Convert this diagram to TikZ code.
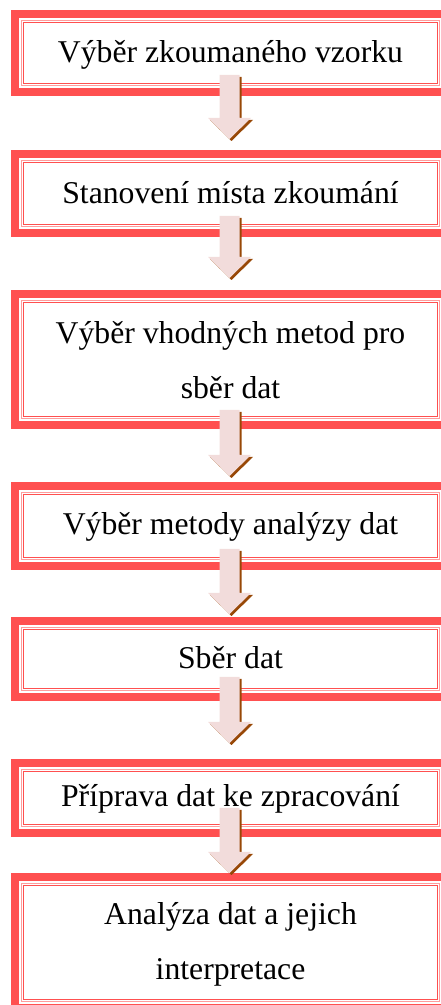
\documentclass[tikz,border=0pt]{standalone}
\usepackage{fontspec}
\setmainfont{Liberation Serif}
\usetikzlibrary{calc}

\definecolor{framered}{HTML}{FF5050}
\definecolor{framepink}{HTML}{FF9C9C}
\definecolor{arrowfill}{HTML}{F2DCDB}
\definecolor{arrowshade}{HTML}{984807}

\tikzset{
  stepbox/.style={rectangle, minimum width=439pt, inner sep=0pt, outer sep=0pt},
  steptext/.style={anchor=base, inner sep=0pt, font=\fontsize{31.7}{38}\selectfont},
}

% thick outer frame, then a pale hairline and a thin red line inside it
\newcommand\stepframe[1]{%
  \draw[framered, line width=8pt]
    ([shift={(4pt,-4pt)}]#1.north west) rectangle ([shift={(-4pt,4pt)}]#1.south east);
  \draw[framepink, line width=0.9pt]
    ([shift={(10.3pt,-10.3pt)}]#1.north west) rectangle ([shift={(-10.3pt,10.3pt)}]#1.south east);
  \draw[framered, line width=1.5pt]
    ([shift={(12.3pt,-12.3pt)}]#1.north west) rectangle ([shift={(-12.3pt,12.3pt)}]#1.south east);
}

% block arrow from box #1 down to box #2: starts #3 above the bottom of #1,
% its tip stops #4 above the top of #2; brown shadow offset to lower right
\newcommand\flowarrow[4]{%
  \foreach \sh/\col in {2/arrowshade, 0/arrowfill}{%
    \fill[\col]
      let \p1=(#1.south), \p2=(#2.north),
          \n1={\y1+#3pt-\sh pt}, \n2={\y2+#4pt-\sh pt},
          \n3={\y2+#4pt+21pt-\sh pt}, \n4={\x1-1pt+\sh pt} in
      (\n4-10pt,\n1) -- (\n4+10pt,\n1) -- (\n4+10pt,\n3) -- (\n4+21.5pt,\n3)
      -- (\n4,\n2) -- (\n4-21.5pt,\n3) -- (\n4-10pt,\n3) -- cycle;
  }%
}

\begin{document}
\begin{tikzpicture}[x=1pt, y=1pt]
  \useasboundingbox (0,0) rectangle (441,1005);
  \clip (0,0) rectangle (441,1005);

  % step boxes
  \node[stepbox, minimum height=86pt]  (b1) at (230.5,952)   {};
  \node[stepbox, minimum height=87pt]  (b2) at (230.5,811.5) {};
  \node[stepbox, minimum height=139pt] (b3) at (230.5,645.5) {};
  \node[stepbox, minimum height=88pt]  (b4) at (230.5,479)   {};
  \node[stepbox, minimum height=84pt]  (b5) at (230.5,346)   {};
  \node[stepbox, minimum height=78pt]  (b6) at (230.5,207)   {};
  \node[stepbox, minimum height=139pt] (b7) at (230.5,62.5)  {};

  \stepframe{b1}
  \stepframe{b2}
  \stepframe{b3}
  \stepframe{b4}
  \stepframe{b5}
  \stepframe{b6}
  \stepframe{b7}

  % step labels
  \node[steptext] (t1)  at (230.5,942) {Výběr zkoumaného vzorku};
  \node[steptext] (t2)  at (230.5,801) {Stanovení místa zkoumání};
  \node[steptext] (t3a) at (230.5,661) {Výběr vhodných metod pro};
  \node[steptext] (t3b) at (230.5,606) {sběr dat};
  \node[steptext] (t4)  at (230.5,470) {Výběr metody analýzy dat};
  \node[steptext] (t5)  at (230.5,336) {Sběr dat};
  \node[steptext] (t6)  at (230.5,198) {Příprava dat ke zpracování};
  \node[steptext] (t7a) at (230.5,80)  {Analýza dat a jejich};
  \node[steptext] (t7b) at (230.5,25)  {interpretace};

  % arrows between the steps
  \flowarrow{b1}{b2}{21}{11}
  \flowarrow{b2}{b3}{21}{12}
  \flowarrow{b3}{b4}{19}{6}
  \flowarrow{b4}{b5}{21}{3}
  \flowarrow{b5}{b6}{24}{16}
  \flowarrow{b6}{b7}{29}{0}
\end{tikzpicture}
\end{document}
